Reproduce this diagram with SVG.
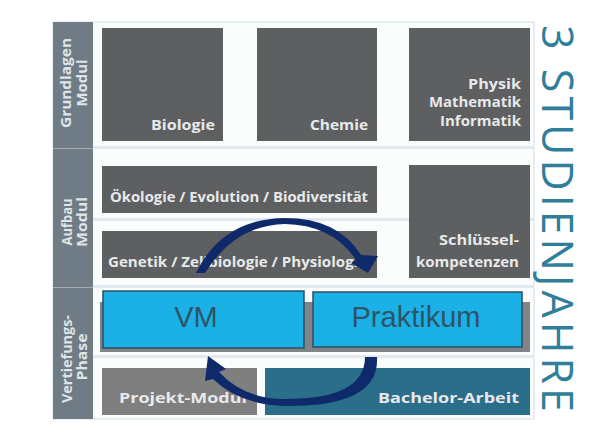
<svg xmlns="http://www.w3.org/2000/svg" width="600" height="434" viewBox="0 0 600 434">
<defs>
<style>
.bg{fill:#ffffff}
.col{fill:#6f7c85}
.sep{fill:#e1e9ed}
.dark{fill:#5d5f61}
.lbl{font-family:"Open Sans","Liberation Sans",sans-serif;font-weight:bold;font-size:14px;fill:#e8e9ea}
.side{font-family:"Open Sans","Liberation Sans",sans-serif;font-weight:bold;font-size:14px;fill:#dfe4e7}
.blue{fill:#1bb0e6;stroke:#2b4f5c;stroke-width:1.5}
.big{font-family:"Liberation Sans",Arial,sans-serif;font-size:29px;fill:#2d5566}
.arrow{fill:#0e2a6b}
.title{font-family:"Open Sans","Liberation Sans",sans-serif;font-weight:normal;font-size:43px;fill:#2f7f9a}
</style>
</defs>
<rect class="bg" x="0" y="0" width="600" height="434"/>
<g id="frame">
<rect x="53" y="22" width="481" height="397" fill="#fbfcfc" stroke="#cfe0e7" stroke-width="1"/>
<rect class="sep" x="93" y="146" width="441" height="3"/>
<rect class="sep" x="93" y="218" width="441" height="3"/>
<rect class="sep" x="93" y="285" width="441" height="3"/>
<rect class="sep" x="93" y="355" width="441" height="3"/>
<rect class="col" x="53" y="22" width="40" height="397"/>
<rect x="53" y="148" width="40" height="1" fill="#a3aeb4"/>
<rect x="53" y="287" width="40" height="1" fill="#a3aeb4"/>
</g>
<g id="label-grundlagen">
<text class="side" transform="translate(71,83) rotate(-90)" text-anchor="middle" textLength="90" lengthAdjust="spacingAndGlyphs">Grundlagen</text>
<text class="side" transform="translate(87,83) rotate(-90)" text-anchor="middle" textLength="47" lengthAdjust="spacingAndGlyphs">Modul</text>
</g>
<g id="label-aufbau">
<text class="side" transform="translate(72,222) rotate(-90)" text-anchor="middle" textLength="47" lengthAdjust="spacingAndGlyphs">Aufbau</text>
<text class="side" transform="translate(87,222) rotate(-90)" text-anchor="middle" textLength="50" lengthAdjust="spacingAndGlyphs">Modul</text>
</g>
<g id="label-vertiefung">
<text class="side" transform="translate(72,359) rotate(-90)" text-anchor="middle" textLength="88" lengthAdjust="spacingAndGlyphs">Vertiefungs-</text>
<text class="side" transform="translate(87,357) rotate(-90)" text-anchor="middle" textLength="47" lengthAdjust="spacingAndGlyphs">Phase</text>
</g>
<g id="biologie">
<rect class="dark" x="102" y="28" width="121" height="113"/>
<text class="lbl" x="215" y="130" text-anchor="end" textLength="64" lengthAdjust="spacingAndGlyphs">Biologie</text>
</g>
<g id="chemie">
<rect class="dark" x="257" y="28" width="120" height="113"/>
<text class="lbl" x="368" y="130" text-anchor="end" textLength="58" lengthAdjust="spacingAndGlyphs">Chemie</text>
</g>
<g id="physik">
<rect class="dark" x="409" y="28" width="121" height="113"/>
<text class="lbl" x="521" y="89" text-anchor="end" textLength="53" lengthAdjust="spacingAndGlyphs">Physik</text>
<text class="lbl" x="521" y="107" text-anchor="end" textLength="92" lengthAdjust="spacingAndGlyphs">Mathematik</text>
<text class="lbl" x="521" y="126" text-anchor="end" textLength="81" lengthAdjust="spacingAndGlyphs">Informatik</text>
</g>
<g id="oekologie">
<rect class="dark" x="102" y="166" width="275" height="47"/>
<text class="lbl" x="110" y="202" textLength="258" lengthAdjust="spacingAndGlyphs">Ökologie / Evolution / Biodiversität</text>
</g>
<g id="genetik">
<rect class="dark" x="102" y="231" width="275" height="47"/>
<text class="lbl" x="108" y="267" textLength="250" lengthAdjust="spacingAndGlyphs">Genetik / Zellbiologie / Physiolog.</text>
</g>
<g id="schluessel">
<rect class="dark" x="409" y="165" width="121" height="113"/>
<text class="lbl" x="519" y="245" text-anchor="end" textLength="80" lengthAdjust="spacingAndGlyphs">Schlüssel-</text>
<text class="lbl" x="519" y="267" text-anchor="end" textLength="103" lengthAdjust="spacingAndGlyphs">kompetenzen</text>
</g>
<g id="shadow">
<rect x="100" y="302" width="430" height="50" fill="#7e8488"/>
</g>
<g id="vm">
<rect class="blue" x="103" y="291" width="201" height="57"/>
<text class="big" x="196" y="327" text-anchor="middle">VM</text>
</g>
<g id="praktikum">
<rect class="blue" x="313" y="292" width="209" height="55"/>
<text class="big" x="416" y="327" text-anchor="middle">Praktikum</text>
</g>
<g id="projekt">
<rect x="102" y="368" width="155" height="47" fill="#7f7f7f"/>
<text class="lbl" x="119" y="403" textLength="128" lengthAdjust="spacingAndGlyphs">Projekt-Modul</text>
</g>
<g id="bachelor">
<rect x="265" y="368" width="265" height="47" fill="#2a6e8a"/>
<text class="lbl" x="519" y="403" text-anchor="end" textLength="141" lengthAdjust="spacingAndGlyphs">Bachelor-Arbeit</text>
</g>
<g id="connectors">
<path class="arrow" d="M196,273 Q222,219 285,218 Q338,218 361,255 L378,256 L368,273 L351,263 L356,260 Q333,225 285,224 Q235,225 205,273 Z"/>
<path class="arrow" d="M377,357 Q380,407 285,406 Q240,405 213,379 L205,381 L208,356 L226,369 L219,372 Q244,399 285,399 Q365,399 365,357 Z"/>
</g>
<g id="title">
<text class="title" transform="translate(542,25) rotate(90)" textLength="387" lengthAdjust="spacing">3 STUDIENJAHRE</text>
</g>
</svg>
